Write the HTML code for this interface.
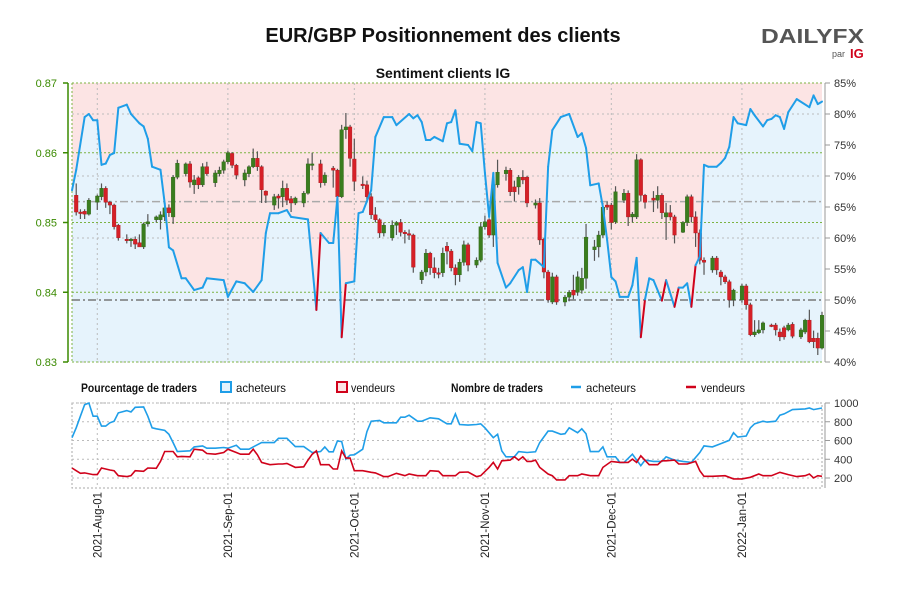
<!DOCTYPE html>
<html><head><meta charset="utf-8"><style>
body{margin:0;background:#fff;}
svg text{font-family:"Liberation Sans",sans-serif;}
</style></head><body>
<svg id="chart" width="900" height="600" viewBox="0 0 900 600" xmlns="http://www.w3.org/2000/svg">
<rect width="900" height="600" fill="#fff"/>
<text x="443" y="42" text-anchor="middle" font-size="20" font-weight="bold" fill="#111">EUR/GBP Positionnement des clients</text>
<g>
<text x="761" y="43" font-size="20" font-weight="bold" fill="#555" textLength="103" lengthAdjust="spacingAndGlyphs">DAILYFX</text>
<text x="832" y="57" font-size="9" fill="#555">par</text>
<text x="850" y="58" font-size="13" font-weight="bold" fill="#d0021b">IG</text>
</g>
<text x="443" y="78" text-anchor="middle" font-size="14" font-weight="bold" fill="#111">Sentiment clients IG</text>
<g id="main"></g>
<g id="legend">
<text x="81" y="392" font-size="12" font-weight="bold" fill="#111" textLength="116" lengthAdjust="spacingAndGlyphs">Pourcentage de traders</text>
<rect x="221" y="382" width="10" height="10" fill="#e6f3fc" stroke="#1f9ee8" stroke-width="2"/>
<text x="236" y="392" font-size="12" fill="#111" textLength="50" lengthAdjust="spacingAndGlyphs">acheteurs</text>
<rect x="337" y="382" width="10" height="10" fill="#fce4e4" stroke="#d0021b" stroke-width="2"/>
<text x="351" y="392" font-size="12" fill="#111" textLength="44" lengthAdjust="spacingAndGlyphs">vendeurs</text>
<text x="451" y="392" font-size="12" font-weight="bold" fill="#111" textLength="92" lengthAdjust="spacingAndGlyphs">Nombre de traders</text>
<line x1="571" y1="387" x2="581" y2="387" stroke="#1f9ee8" stroke-width="2.5"/>
<text x="586" y="392" font-size="12" fill="#111" textLength="50" lengthAdjust="spacingAndGlyphs">acheteurs</text>
<line x1="686" y1="387" x2="696" y2="387" stroke="#d0021b" stroke-width="2.5"/>
<text x="701" y="392" font-size="12" fill="#111" textLength="44" lengthAdjust="spacingAndGlyphs">vendeurs</text>
</g>
<g id="lower"></g>
</svg>
<script>
// ---- data ----
const monthLabels=["2021-Aug-01","2021-Sep-01","2021-Oct-01","2021-Nov-01","2021-Dec-01","2022-Jan-01"];
const monthDays=[6,37,67,98,128,159];
const priceTicks=[0.83,0.84,0.85,0.86,0.87];
const pctTicks=[40,45,50,55,60,65,70,75,80,85];
const countTicks=[200,400,600,800,1000];
const refPrice=0.853;
const sDays=[0,1,3,4,5,6,7,8,9,10,11,13,14,16,17,18,19,21,22,23,24,26,27,29,31,32,36,37,39,41,43,45,46,47,49,51,52,56,58,59,61,62,63,64,65,67,68,69,71,72,74,76,77,80,81,82,83,84,85,86,88,89,90,91,92,94,95,96,97,98,99,100,101,103,104,106,107,108,109,110,112,113,114,116,118,120,121,122,123,125,126,127,128,129,130,132,133,134,135,136,137,138,140,141,143,144,145,146,147,148,149,150,151,153,154,155,156,157,158,160,161,162,164,165,166,167,168,169,170,172,175,176,177,178];
const sPct=[67.7,71,79.5,80,79,79,71.8,72,73.4,73.7,81,81.5,80,78.5,78,76,71.5,71,65.6,58.5,58,53.5,53.5,51.6,52,53.5,53.2,50.5,53,52.7,51.3,53.2,60.8,64,64,64.5,63.4,63,48.4,60.8,59.2,59.2,66.6,44,52.7,53,64,64.2,67.7,76.3,79.5,79.5,78.2,80,79.3,79.8,78.7,75.8,75.8,76.3,75.6,78.5,78.7,80.6,75.2,75,74,78.7,78.5,70.5,63.4,70.5,56,52,52.7,54.8,55.3,51.3,56.5,56.5,55.3,71.5,77.4,79.5,80,76.3,76.9,74.5,68.5,68.8,65,59.7,53.7,53,50.5,50.5,52.4,56.8,44,50.1,53.5,53.2,49.9,53.2,48.9,52,52,52.7,48.9,55.6,57,71.8,71.5,71.5,72.1,72.9,74.7,79.5,78.5,78.2,80.8,79.8,78,79,79.2,79.8,79.5,77.6,80.3,82.4,81.1,83,81.6,82];
const cDay=[1,2,3,4,6,7,8,9,10,11,13,14,15,16,17,18,20,21,22,23,24,25,27,28,29,30,31,32,34,35,36,37,38,39,41,42,43,44,45,46,48,49,50,51,52,53,55,56,57,59,60,62,63,64,65,66,67,69,70,71,72,73,74,76,77,78,79,80,81,83,84,85,86,87,88,89,90,91,92,93,94,96,97,98,99,100,101,103,104,105,106,107,108,110,111,112,113,114,115,117,118,119,120,121,122,124,125,126,127,128,129,131,132,133,134,135,136,138,139,140,141,142,143,145,146,147,148,149,150,152,153,154,155,156,157,159,160,161,162,163,164,166,167,168,169,170,171,173,174,175,176,177,178];
const cOpen=[.8539,.8515,.8516,.8512,.8529,.8537,.8549,.8529,.8525,.8496,.8476,.8475,.8476,.8471,.8465,.8498,.8504,.8504,.8508,.8521,.8508,.8565,.8570,.8584,.8554,.8564,.8554,.8580,.8557,.8570,.8575,.8587,.8599,.8582,.8561,.8570,.8580,.8592,.8580,.8545,.8525,.8538,.8537,.8549,.8534,.8528,.8528,.8542,.8582,.8584,.8557,.8578,.8575,.8537,.8633,.8637,.8591,.8555,.8554,.8537,.8511,.8504,.8485,.8478,.8496,.8500,.8486,.8484,.8482,.8418,.8429,.8456,.8435,.8428,.8428,.8466,.8459,.8435,.8425,.8443,.8468,.8439,.8446,.8494,.8504,.8482,.8554,.8570,.8575,.8551,.8551,.8565,.8565,.8525,.8528,.8476,.8429,.8386,.8422,.8386,.8393,.8403,.8400,.8403,.8420,.8461,.8465,.8482,.8525,.8525,.8501,.8532,.8542,.8508,.8508,.8590,.8539,.8535,.8532,.8539,.8508,.8514,.8508,.8486,.8500,.8537,.8508,.8485,.8446,.8432,.8449,.8429,.8422,.8415,.8389,.8389,.8409,.8382,.8339,.8342,.8346,.8353,.8353,.8343,.8349,.8346,.8354,.8336,.8343,.8360,.8334,.8334,.8320];
const cClose=[.8515,.8513,.8512,.8532,.8538,.8549,.8529,.8525,.8494,.8478,.8474,.8476,.8469,.8465,.8498,.8501,.8508,.8511,.8521,.8514,.8565,.8585,.8584,.8558,.8561,.8554,.8580,.8570,.8571,.8575,.8587,.8600,.8582,.8568,.8571,.8580,.8592,.8580,.8547,.8539,.8537,.8535,.8549,.8532,.8528,.8535,.8542,.8584,.8584,.8557,.8568,.8575,.8537,.8633,.8637,.8592,.8559,.8554,.8537,.8511,.8504,.8485,.8496,.8496,.8500,.8486,.8484,.8482,.8436,.8429,.8456,.8435,.8428,.8427,.8456,.8459,.8435,.8425,.8443,.8468,.8439,.8446,.8494,.8501,.8482,.8554,.8572,.8575,.8544,.8544,.8565,.8561,.8528,.8528,.8475,.8429,.8389,.8422,.8386,.8393,.8400,.8396,.8422,.8420,.8479,.8465,.8482,.8522,.8522,.8500,.8544,.8542,.8508,.8512,.8590,.8539,.8529,.8532,.8539,.8514,.8514,.8508,.8482,.8500,.8537,.8508,.8485,.8446,.8443,.8449,.8432,.8422,.8415,.8389,.8403,.8409,.8382,.8339,.8343,.8346,.8356,.8352,.8346,.8336,.8336,.8353,.8337,.8346,.8360,.8329,.8329,.8320,.8367];
const cHigh=[.8556,.8519,.8519,.8535,.8540,.8556,.8552,.8531,.8527,.8498,.8483,.8478,.8480,.8483,.8500,.8512,.8510,.8516,.8525,.8526,.8568,.8590,.8586,.8588,.8568,.8566,.8585,.8587,.8575,.8580,.8590,.8603,.8601,.8584,.8576,.8582,.8606,.8602,.8582,.8546,.8541,.8541,.8560,.8556,.8538,.8537,.8545,.8592,.8600,.8590,.8572,.8581,.8577,.8640,.8657,.8640,.8620,.8566,.8560,.8542,.8522,.8506,.8500,.8503,.8502,.8505,.8489,.8490,.8484,.8432,.8462,.8458,.8450,.8435,.8464,.8472,.8462,.8440,.8448,.8474,.8471,.8450,.8500,.8510,.8506,.8560,.8590,.8580,.8578,.8560,.8568,.8575,.8567,.8533,.8535,.8478,.8432,.8428,.8425,.8396,.8403,.8425,.8430,.8435,.8498,.8475,.8488,.8528,.8530,.8528,.8552,.8548,.8546,.8515,.8598,.8592,.8541,.8545,.8552,.8542,.8528,.8525,.8511,.8502,.8540,.8540,.8516,.8490,.8450,.8452,.8452,.8432,.8425,.8418,.8405,.8412,.8412,.8385,.8360,.8360,.8358,.8355,.8356,.8348,.8352,.8356,.8357,.8349,.8362,.8375,.8345,.8342,.8372];
const cLow=[.8510,.8505,.8505,.8510,.8518,.8532,.8521,.8512,.8490,.8474,.8470,.8465,.8462,.8467,.8462,.8494,.8500,.8490,.8502,.8508,.8498,.8562,.8566,.8550,.8541,.8548,.8551,.8567,.8551,.8566,.8570,.8584,.8578,.8562,.8552,.8565,.8578,.8574,.8528,.8528,.8518,.8520,.8522,.8525,.8515,.8525,.8522,.8540,.8575,.8550,.8553,.8550,.8535,.8535,.8620,.8580,.8545,.8548,.8530,.8505,.8500,.8478,.8480,.8474,.8482,.8480,.8470,.8475,.8428,.8412,.8423,.8425,.8420,.8420,.8422,.8440,.8430,.8410,.8415,.8438,.8430,.8435,.8443,.8490,.8478,.8465,.8550,.8560,.8538,.8530,.8540,.8555,.8522,.8520,.8468,.8420,.8385,.8383,.8382,.8380,.8387,.8390,.8395,.8398,.8405,.8445,.8450,.8478,.8518,.8490,.8498,.8528,.8495,.8500,.8505,.8530,.8520,.8515,.8520,.8505,.8475,.8503,.8470,.8485,.8495,.8500,.8465,.8440,.8425,.8428,.8425,.8410,.8412,.8378,.8380,.8385,.8375,.8337,.8336,.8340,.8341,.8350,.8338,.8330,.8332,.8344,.8334,.8333,.8340,.8327,.8320,.8310,.8318];
const bDays=[0,1,2,3,4,5,6,7,8,9,10,11,13,14,15,17,18,19,20,22,23,24,25,28,29,31,32,34,36,37,39,40,42,43,45,48,49,51,53,55,57,59,60,61,62,63,64,65,66,67,69,70,71,73,74,77,78,79,80,82,83,85,87,89,90,91,92,94,96,97,98,100,101,102,103,105,106,108,110,111,113,114,116,117,118,120,121,122,123,125,126,127,129,130,131,133,135,136,138,140,141,143,145,147,149,150,152,154,156,157,158,160,161,162,164,165,167,168,169,171,174,175,176,178];
const bCount=[630,736,859,982,1000,859,859,754,754,789,806,894,919,905,954,958,859,736,725,708,666,578,483,490,532,542,518,518,525,518,549,507,507,532,578,578,623,623,535,535,472,483,532,479,479,595,588,402,444,447,507,694,806,813,789,789,849,849,870,806,806,842,831,778,778,884,771,764,771,778,736,630,666,489,426,426,482,472,479,578,700,700,666,673,736,683,725,673,482,482,532,426,426,366,366,454,331,391,377,377,426,391,377,366,472,542,532,567,602,683,637,648,736,778,806,796,806,870,884,930,937,947,930,947];
const rDays=[0,1,2,3,5,6,7,9,10,11,13,14,15,17,18,20,21,22,24,25,26,28,29,31,32,34,36,37,39,40,42,43,44,45,47,49,50,51,53,55,56,57,58,59,61,62,63,64,65,66,67,69,71,72,74,75,77,79,80,82,84,85,87,88,91,92,94,96,97,99,100,101,102,104,105,106,107,108,109,110,111,113,114,115,117,118,120,121,123,125,126,128,130,132,133,134,135,137,139,140,141,143,144,146,148,149,150,152,155,157,159,161,163,164,166,168,170,172,174,175,176,177,178];
const rCount=[307,278,250,254,236,236,307,285,278,225,215,225,278,271,307,303,377,483,483,426,430,426,507,497,461,454,472,507,472,454,454,507,447,366,342,349,349,356,313,320,391,454,489,342,342,296,296,489,412,412,278,278,261,254,215,215,250,225,243,225,225,278,271,225,225,261,264,215,225,313,366,296,384,391,426,391,426,377,377,391,313,243,225,180,180,225,225,243,225,225,313,377,366,366,402,366,437,342,342,384,384,391,349,349,377,278,218,218,225,190,190,208,243,225,225,261,236,215,225,243,201,225,218];

// ---- scales ----
const X0=72,X1=822,DMAX=178;
const xDay=d=>X0+d*(X1-X0)/DMAX;
const PT=83,PB=362;
const yPct=p=>PT+(85-p)*(PB-PT)/45;
const yPrice=p=>PT+(0.87-p)*(PB-PT)/0.04;
const LT=403,LB=488;
const yCnt=v=>LT+(1000-v)*75/800;
const NS="http://www.w3.org/2000/svg";
function mk(tag,attrs,parent){const e=document.createElementNS(NS,tag);for(const k in attrs)e.setAttribute(k,attrs[k]);parent.appendChild(e);return e;}
const main=document.getElementById('main');
const lower=document.getElementById('lower');

let bg=mk('rect',{x:X0,y:PT,width:X1-X0,height:PB-PT,fill:'#fce4e4'},main);


let pts=sDays.map((d,i)=>xDay(d).toFixed(1)+','+yPct(sPct[i]).toFixed(1));
let area=mk('polygon',{points:X0+','+PB+' '+pts.join(' ')+' '+xDay(sDays[sDays.length-1])+','+PB,fill:'#e6f3fc'},main);



pctTicks.forEach(p=>{if(p%10===0&&p!==50){let g=mk('line',{x1:X0,x2:X1,y1:yPct(p),y2:yPct(p),stroke:'#bbb','stroke-dasharray':'2,3'},main);

}});
priceTicks.forEach(p=>{let g=mk('line',{x1:X0,x2:X1,y1:yPrice(p),y2:yPrice(p),stroke:'#7cb342','stroke-dasharray':'2,2'},main);

});
monthDays.forEach(d=>{let g=mk('line',{x1:xDay(d),x2:xDay(d),y1:PT,y2:PB,stroke:'#bbb','stroke-dasharray':'2,3'},main);

});
let lb=mk('line',{x1:X0,x2:X0,y1:PT,y2:PB,stroke:'#7cb342','stroke-dasharray':'2,2'},main);


let rl=mk('line',{x1:X0,x2:X1,y1:yPrice(refPrice),y2:yPrice(refPrice),stroke:'#aaa','stroke-width':1.5,'stroke-dasharray':'8,3,2,3'},main);


let fl=mk('line',{x1:X0,x2:X1,y1:yPct(50),y2:yPct(50),stroke:'#777','stroke-width':1.5,'stroke-dasharray':'8,3,2,3'},main);



cDay.forEach((d,i)=>{
  const x=xDay(d),o=cOpen[i],c=cClose[i];
  const up=c>=o;
  let w=mk('line',{x1:x,x2:x,y1:yPrice(cHigh[i]),y2:yPrice(cLow[i]),stroke:'#555','stroke-width':1.2},main);
  
  
  const yt=yPrice(Math.max(o,c)),yb=yPrice(Math.min(o,c));
  let b=mk('rect',{x:x-1.8,y:yt,width:3.6,height:Math.max(1.5,yb-yt),fill:up?'#3a7d1e':'#d62027',stroke:up?'#2e6416':'#a8161c','stroke-width':0.4},main);
  
  
});

for(let i=0;i<sDays.length-1;i++){
  let s=mk('line',{x1:xDay(sDays[i]),y1:yPct(sPct[i]),x2:xDay(sDays[i+1]),y2:yPct(sPct[i+1]),stroke:sPct[i]<=50?'#d0021b':'#1f9ee8','stroke-width':2,'stroke-linecap':'round'},main);
  
  
}

let la=mk('line',{x1:68,x2:68,y1:PT,y2:PB,stroke:'#3a8a00','stroke-width':1.5},main);


priceTicks.forEach(p=>{
  mk('line',{x1:63,x2:68,y1:yPrice(p),y2:yPrice(p),stroke:'#3a8a00','stroke-width':1.5},main);
  let t=mk('text',{x:57,y:yPrice(p)+4,'text-anchor':'end','font-size':11,fill:'#3a8a00'},main);
  t.textContent=p.toFixed(2);
  
  
});
let ra=mk('line',{x1:825,x2:825,y1:PT,y2:PB,stroke:'#999','stroke-width':1},main);


pctTicks.forEach(p=>{
  mk('line',{x1:825,x2:830,y1:yPct(p),y2:yPct(p),stroke:'#999'},main);
  let t=mk('text',{x:834,y:yPct(p)+4,'font-size':11,fill:'#333'},main);
  t.textContent=p+'%';
  
  
});

let lbox=mk('rect',{x:X0,y:LT,width:X1-X0,height:LB-LT,fill:'none',stroke:'#aaa','stroke-dasharray':'2,2'},lower);


countTicks.forEach(v=>{
  let g=mk('line',{x1:X0,x2:X1,y1:yCnt(v),y2:yCnt(v),stroke:'#bbb','stroke-dasharray':'2,3'},lower);
  
  
  mk('line',{x1:825,x2:830,y1:yCnt(v),y2:yCnt(v),stroke:'#999'},lower);
  let t=mk('text',{x:834,y:yCnt(v)+4,'font-size':11,fill:'#333'},lower);
  t.textContent=v;
  
  
});
mk('line',{x1:825,x2:825,y1:LT,y2:LB,stroke:'#999'},lower);
monthDays.forEach((d,i)=>{
  let g=mk('line',{x1:xDay(d),x2:xDay(d),y1:LT,y2:LB,stroke:'#bbb','stroke-dasharray':'2,3'},lower);
  
  
  let t=mk('text',{x:0,y:0,'text-anchor':'end','font-size':12,fill:'#222',textLength:66,lengthAdjust:'spacingAndGlyphs',transform:'translate('+(xDay(d)+4)+',492) rotate(-90)'},lower);
  t.textContent=monthLabels[i];
  
  
});
let bl=mk('polyline',{points:bDays.map((d,i)=>xDay(d).toFixed(1)+','+yCnt(bCount[i]).toFixed(1)).join(' '),fill:'none',stroke:'#1f9ee8','stroke-width':1.6},lower);


let rline=mk('polyline',{points:rDays.map((d,i)=>xDay(d).toFixed(1)+','+yCnt(rCount[i]).toFixed(1)).join(' '),fill:'none',stroke:'#d0021b','stroke-width':1.6},lower);


</script>
</body></html>
